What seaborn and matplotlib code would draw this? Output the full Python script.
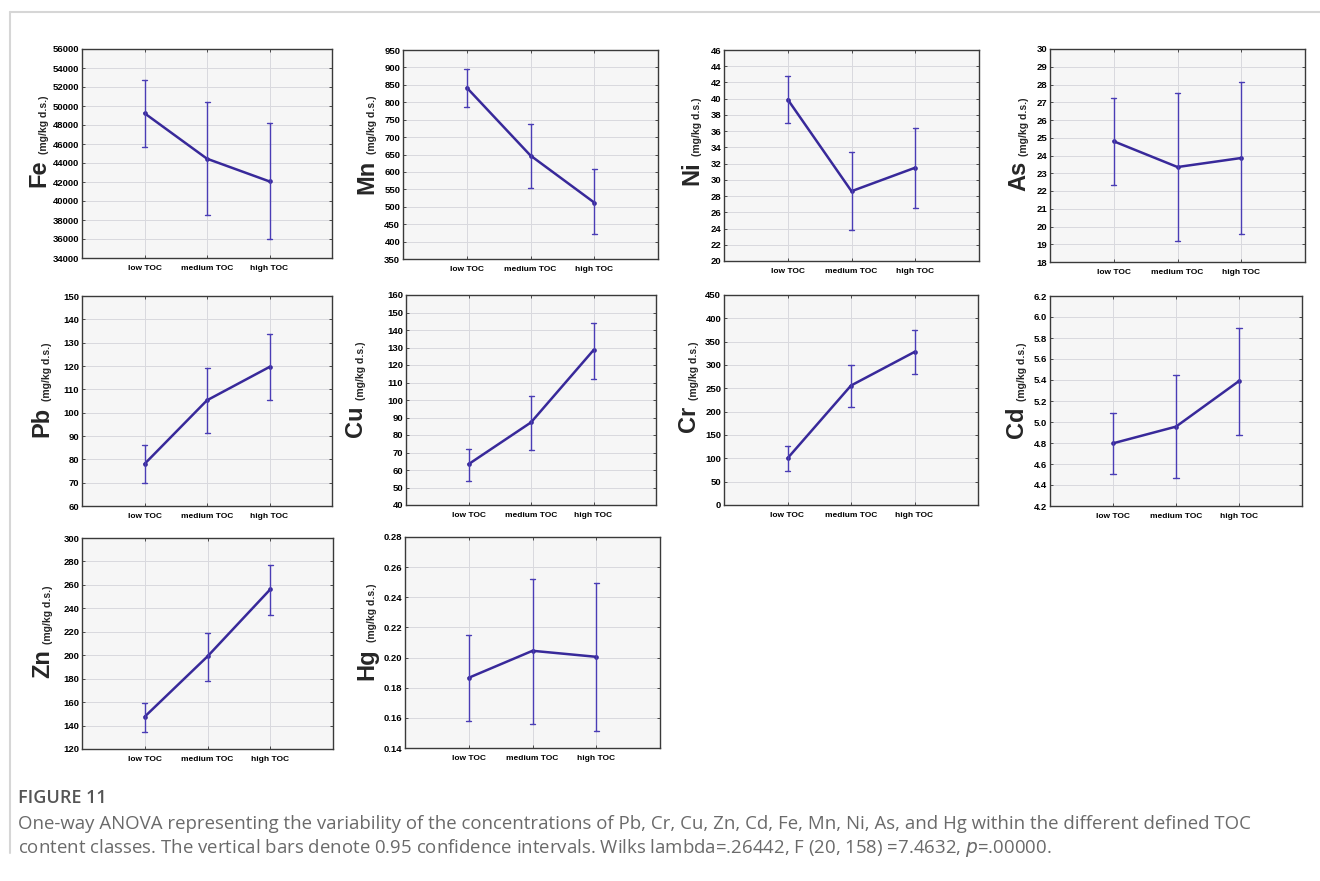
import pandas as pd
import matplotlib.pyplot as plt
import seaborn as sns
from matplotlib.lines import Line2D
from matplotlib.ticker import MultipleLocator, FormatStrFormatter

# TOC classes on the x axis
classes = ["low TOC", "medium TOC", "high TOC"]

# elements in panel order
elements = ["Fe", "Mn", "Ni", "As", "Pb", "Cu", "Cr", "Cd", "Zn", "Hg"]

# group means
means = {
    "Fe": [49240, 44450, 42060],
    "Mn": [842, 647, 512],
    "Ni": [39.9, 28.6, 31.5],
    "As": [24.8, 23.35, 23.86],
    "Pb": [78.0, 105.3, 119.6],
    "Cu": [63.3, 87.2, 128.5],
    "Cr": [100, 256, 328],
    "Cd": [4.797, 4.956, 5.39],
    "Zn": [147.6, 199.0, 256.2],
    "Hg": [0.1866, 0.2045, 0.2005],
}

# lower / upper 0.95 confidence limits
ci_low = {
    "Fe": [45720, 38570, 36000],
    "Mn": [787, 554, 421],
    "Ni": [37.03, 23.8, 26.58],
    "As": [22.33, 19.2, 19.55],
    "Pb": [69.7, 91.4, 105.6],
    "Cu": [53.75, 71.3, 112.0],
    "Cr": [73, 210, 280],
    "Cd": [4.509, 4.462, 4.879],
    "Zn": [134.8, 178.3, 234.3],
    "Hg": [0.1579, 0.1561, 0.151],
}
ci_high = {
    "Fe": [52730, 50440, 48180],
    "Mn": [895, 738, 607],
    "Ni": [42.75, 33.4, 36.45],
    "As": [27.25, 27.5, 28.12],
    "Pb": [86.1, 119.0, 133.9],
    "Cu": [72.1, 102.5, 144.1],
    "Cr": [127, 301, 374],
    "Cd": [5.087, 5.444, 5.891],
    "Zn": [159.3, 219.3, 276.7],
    "Hg": [0.2149, 0.2524, 0.2498],
}

# y axis: (min, max, step, format)
y_axes = {
    "Fe": (34000, 56000, 2000, "%d"),
    "Mn": (350, 950, 50, "%d"),
    "Ni": (20, 46, 2, "%d"),
    "As": (18, 30, 1, "%d"),
    "Pb": (60, 150, 10, "%d"),
    "Cu": (40, 160, 10, "%d"),
    "Cr": (0, 450, 50, "%d"),
    "Cd": (4.2, 6.2, 0.2, "%.1f"),
    "Zn": (120, 300, 20, "%d"),
    "Hg": (0.14, 0.28, 0.02, "%.2f"),
}

unit = "(mg/kg d.s.)"

# -------------------------------
# layout in pixels: left, right, top, bottom, label offset
# -------------------------------
W, H = 1320, 881
layout = {
    "Fe": (82, 332, 49, 258, 32),
    "Mn": (403, 658, 50, 259, 25),
    "Ni": (724, 979, 50, 261, 21),
    "As": (1050, 1305, 49, 262, 20),
    "Pb": (82, 332, 296, 506, 29),
    "Cu": (406, 656, 295, 505, 39),
    "Cr": (724, 978, 295, 505, 24),
    "Cd": (1050, 1302, 296, 506, 22),
    "Zn": (82, 333, 538, 749, 28),
    "Hg": (405, 660, 537, 748, 27),
}

sns.set_style("ticks")
plt.rcParams["font.family"] = ["Liberation Sans Narrow", "Liberation Sans", "DejaVu Sans"]

line_color = "#38299a"
err_color = "#4a3db5"

fig = plt.figure(figsize=(W / 100, H / 100), dpi=100)

for el in elements:
    l, r, t, b, off = layout[el]
    ax = fig.add_axes([l / W, 1 - b / H, (r - l) / W, (b - t) / H])

    # long table: lower limit, mean, upper limit per class
    df = pd.DataFrame({
        "TOC": classes * 3,
        "value": ci_low[el] + means[el] + ci_high[el],
    })
    sns.pointplot(
        data=df, x="TOC", y="value", order=classes,
        estimator="median", errorbar=lambda v: (v.min(), v.max()),
        color=line_color, capsize=0.08, linewidth=1.8, markersize=2,
        err_kws={"linewidth": 1.0, "color": err_color}, ax=ax,
    )

    lo, hi, step, fmt = y_axes[el]
    ax.set_ylim(lo, hi)
    ax.yaxis.set_major_locator(MultipleLocator(step))
    ax.yaxis.set_major_formatter(FormatStrFormatter(fmt))
    ax.set_xlim(-1, 3)

    ax.set_facecolor("#f6f6f6")
    ax.grid(True, color="#d9d9de", linewidth=0.7)
    ax.set_axisbelow(True)
    for s in ax.spines.values():
        s.set_color("#3a3a3a")
        s.set_linewidth(1.0)
    ax.tick_params(axis="both", direction="in", length=2, width=0.6,
                   top=True, right=True, colors="#333333", labelcolor="black")
    ax.tick_params(axis="y", labelsize=6.8, pad=2)
    ax.tick_params(axis="x", labelsize=6, pad=5)
    for lab in ax.get_xticklabels() + ax.get_yticklabels():
        lab.set_fontweight("bold")

    ax.set_xlabel("")
    ax.set_ylabel("")
    # element symbol and unit, rotated
    ax.annotate(el, xy=(0, 0.5), xycoords="axes fraction",
                xytext=(-off * 0.72, -4), textcoords="offset points",
                rotation=90, ha="right", va="top",
                fontsize=17, fontweight="bold", family=["Liberation Sans", "DejaVu Sans"])
    ax.annotate(unit, xy=(0, 0.5), xycoords="axes fraction",
                xytext=(-off * 0.72 - 1, 0), textcoords="offset points",
                rotation=90, ha="right", va="bottom",
                fontsize=7.5, fontweight="bold", family=["Liberation Sans", "DejaVu Sans"])

# light frame round the figure block
fig.add_artist(Line2D([10 / W, 1], [1 - 12 / H, 1 - 12 / H], color="#d6d6d6", lw=1.5))
fig.add_artist(Line2D([10 / W, 10 / W], [1 - 12 / H, 1 - 853 / H], color="#d6d6d6", lw=1.5))

cap_font = ["Open Sans", "DejaVu Sans"]
fig.text(18 / W, 1 - 798 / H, "FIGURE 11", fontsize=13, color="#555555",
         va="center", family=cap_font, fontweight="semibold")
fig.text(18 / W, 1 - 824 / H,
         "One-way ANOVA representing the variability of the concentrations of Pb, Cr, Cu, Zn, Cd, Fe, Mn, Ni, As, and Hg within the different defined TOC",
         fontsize=13.4, color="#6a6a6a", va="center", family=cap_font)
fig.text(18 / W, 1 - 848 / H,
         "content classes. The vertical bars denote 0.95 confidence intervals. Wilks lambda=.26442, F (20, 158) =7.4632, $p$=.00000.",
         fontsize=13.4, color="#6a6a6a", va="center", family=cap_font)

plt.savefig("out.png", dpi=100)
plt.close()
